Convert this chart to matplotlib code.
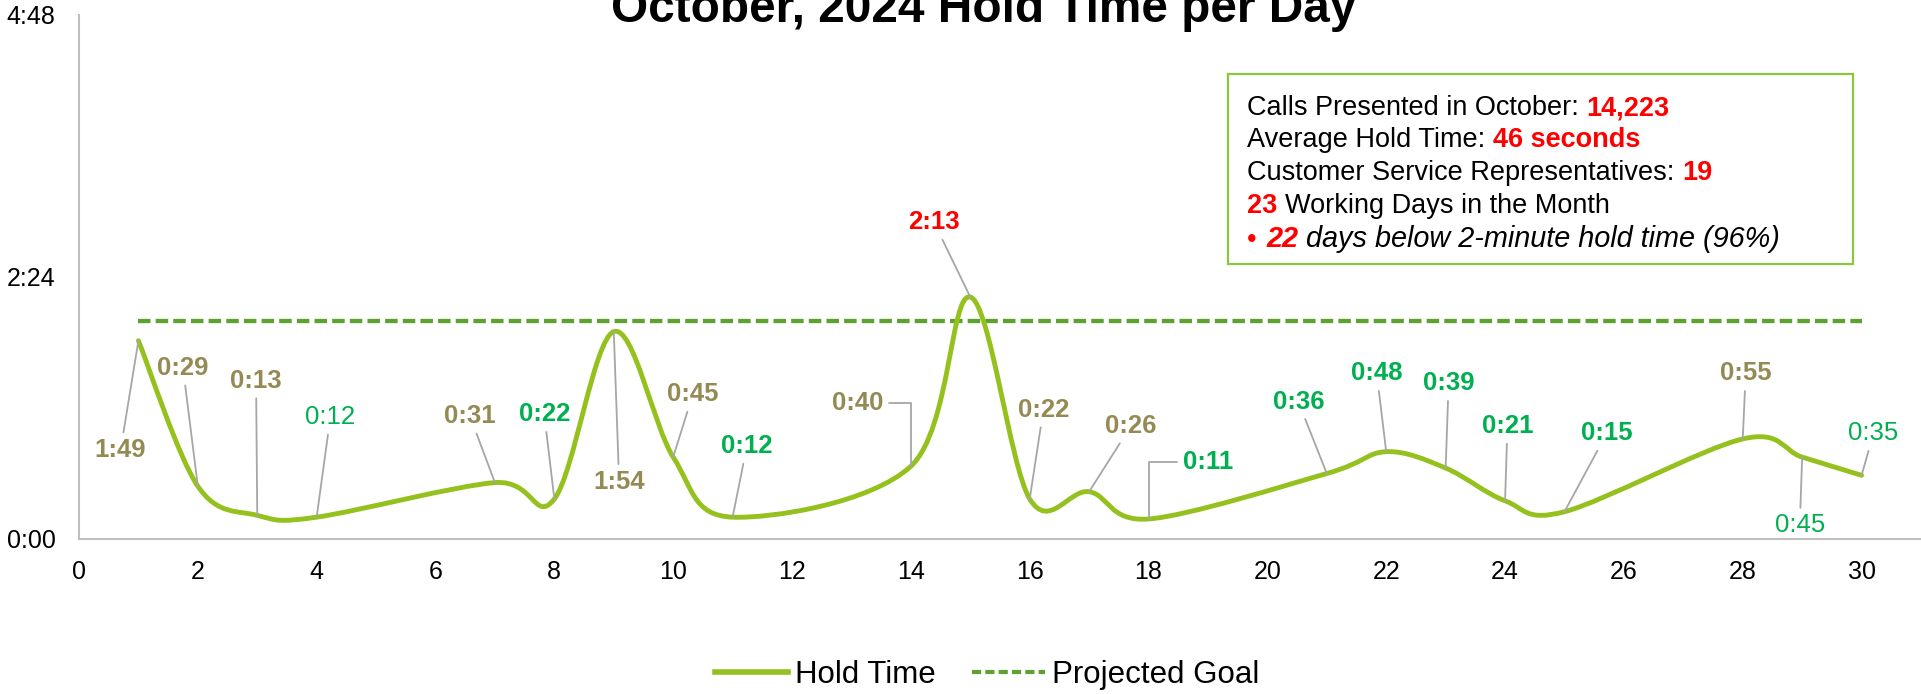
import matplotlib
matplotlib.use("Agg")
import matplotlib.pyplot as plt
from matplotlib.path import Path
from matplotlib.patches import PathPatch, Rectangle
from matplotlib.lines import Line2D

plt.rcParams['font.family'] = ['Liberation Sans', 'DejaVu Sans']

# ---- dados ----
days = [1, 2, 3, 4, 7, 8, 9, 10, 11, 14, 15, 16, 17, 18, 21, 22, 23, 24, 25, 28, 29, 30]
hold_sec = [109, 29, 13, 12, 31, 22, 114, 45, 12, 40, 133, 22, 26, 11, 36, 48, 39, 21, 15, 55, 45, 35]
goal_sec = 120
goal_days = [1, 30]

y_ticks = [0, 144, 288]
y_tick_labels = ['0:00', '2:24', '4:48']
x_ticks = list(range(0, 31, 2))

# estilo de cada rótulo: 't' = caqui, 'g' = verde, 'r' = vermelho ; negrito ou não
label_style = ['t', 't', 't', 'g', 't', 'g', 't', 't', 'g', 't', 'r', 't',
               't', 'g', 'g', 'g', 'g', 'g', 'g', 't', 'g', 'g']
label_bold = [1, 1, 1, 0, 1, 1, 1, 1, 1, 1, 1, 1,
              1, 1, 1, 1, 1, 1, 1, 1, 0, 0]
# posição dos rótulos (dia, segundos)
label_x = [0.70, 1.75, 2.98, 4.23, 6.58, 7.83, 9.09, 10.33, 11.24, 13.1, 14.39, 16.23,
           17.7, 19.0, 20.52, 21.84, 23.05, 24.04, 25.71, 28.05, 28.96, 30.2]
label_y = [49, 94, 87, 67, 67.5, 68.5, 31.5, 79.5, 51, 74.5, 174, 71,
           62, 42.5, 75.5, 91, 85.5, 62, 58, 91, 7.5, 58]
elbow_left = [9]    # rótulo à esquerda, conector em L
elbow_right = [13]  # rótulo à direita, conector em L

info_lines = [
    [("Calls Presented in October:", 'k', 'normal', 'normal'), ("14,223", 'r', 'bold', 'normal')],
    [("Average Hold Time:", 'k', 'normal', 'normal'), ("46 seconds", 'r', 'bold', 'normal')],
    [("Customer Service Representatives:", 'k', 'normal', 'normal'), ("19", 'r', 'bold', 'normal')],
    [("23", 'r', 'bold', 'normal'), ("Working Days in the Month", 'k', 'normal', 'normal')],
    [("22", 'r', 'bold', 'italic'), ("days below 2-minute hold time (96%)", 'k', 'normal', 'italic')],
]

cores = {'t': '#948A54', 'g': '#00B050', 'r': '#FF0000', 'k': '#000000'}
cor_linha = '#95C11F'
cor_meta = '#5DA130'


def fmt(s):
    return f"{s // 60}:{s % 60:02d}"


def caminho_suave(xs, ys):
    # curva suavizada estilo Excel (Bezier com tangentes de Catmull-Rom)
    pts = list(zip(xs, ys))
    n = len(pts)
    verts = [pts[0]]
    codes = [Path.MOVETO]
    for i in range(n - 1):
        p0 = pts[i - 1] if i > 0 else pts[i]
        p1 = pts[i]
        p2 = pts[i + 1]
        p3 = pts[i + 2] if i + 2 < n else pts[i + 1]
        c1 = (p1[0] + (p2[0] - p0[0]) / 6, p1[1] + (p2[1] - p0[1]) / 6)
        c2 = (p2[0] - (p3[0] - p1[0]) / 6, p2[1] - (p3[1] - p1[1]) / 6)
        verts += [c1, c2, p2]
        codes += [Path.CURVE4] * 3
    return Path(verts, codes)


W, H = 1921, 694
fig = plt.figure(figsize=(W / 100, H / 100), dpi=100)
ax = fig.add_axes([79 / W, 1 - 539 / H, 1842 / W, 524 / H])

ax.add_patch(PathPatch(caminho_suave(days, hold_sec), facecolor='none',
                       edgecolor=cor_linha, lw=3.5, capstyle='round', zorder=3))
ax.plot(goal_days, [goal_sec, goal_sec], color=cor_meta, lw=3.1,
        linestyle=(0, (2.9, 1.2)), zorder=2)

ax.set_xlim(0, 31)
ax.set_ylim(0, 288)
ax.set_xticks(x_ticks)
ax.set_yticks(y_ticks)
ax.set_yticklabels(y_tick_labels)
ax.tick_params(length=0, labelsize=18)
ax.tick_params(axis='x', pad=15)
ax.tick_params(axis='y', pad=17)
for lado in ['top', 'right']:
    ax.spines[lado].set_visible(False)
for lado in ['left', 'bottom']:
    ax.spines[lado].set_color('#BFBFBF')
    ax.spines[lado].set_linewidth(1.5)

# rótulos de dados
for i, (d, s) in enumerate(zip(days, hold_sec)):
    estilo = 'arc3'
    relpos = (0.5, 0.5)
    if i in elbow_left:
        estilo = 'angle,angleA=0,angleB=90,rad=0'
        relpos = (1, 0.5)
    elif i in elbow_right:
        estilo = 'angle,angleA=0,angleB=90,rad=0'
        relpos = (0, 0.5)
    ax.annotate(fmt(s), xy=(d, s), xytext=(label_x[i], label_y[i]), textcoords='data',
                ha='center', va='center', fontsize=18.5,
                color=cores[label_style[i]],
                fontweight='bold' if label_bold[i] else 'normal',
                arrowprops=dict(arrowstyle='-', color='#A6A6A6', lw=1.3,
                                shrinkA=2, shrinkB=0, connectionstyle=estilo,
                                relpos=relpos),
                zorder=4)

# título (parcialmente cortado no topo, como no original)
fig.text(984 / W, 1 - 21.5 / H, 'October, 2024 Hold Time per Day', ha='center',
         va='baseline', fontsize=34.4, fontweight='bold')

# caixa de informações
fig.patches.append(Rectangle((1227.6 / W, 1 - 264 / H), (1853 - 1227.6) / W, (264 - 74) / H,
                             transform=fig.transFigure, fill=False,
                             edgecolor='#8CC63F', lw=1.6))
renderer = fig.canvas.get_renderer()
base_y = [115, 147, 180, 213, 247]
fs_info = 19.5
fs_italico = 20.8


def largura(txt, fs, **kw):
    t = fig.text(0, 0, txt, fontsize=fs, transform=None, **kw)
    w = t.get_window_extent(renderer).width
    t.remove()
    return w


for i, segs in enumerate(info_lines):
    x = 1247
    if i == 4:
        fig.text(x, H - base_y[i], '\u2022', color=cores['r'], fontsize=fs_info,
                 transform=None, va='baseline')
        x = 1266
    for txt, c, wt, st in segs:
        fs = fs_italico if st == 'italic' else fs_info
        t = fig.text(x, H - base_y[i], txt, color=cores[c], fontweight=wt, fontstyle=st,
                     fontsize=fs, transform=None, va='baseline')
        esp = largura('a a', fs) - largura('aa', fs)
        x = t.get_window_extent(renderer).x1 + esp

# legenda
handles = [Line2D([], [], color=cor_linha, lw=4),
           Line2D([], [], color=cor_meta, lw=3, linestyle=(0, (2.2, 1.0)))]
fig.legend(handles, ['Hold Time', 'Projected Goal'], loc='center',
           bbox_to_anchor=(987 / W, 1 - 675 / H), ncol=2, frameon=False, fontsize=22.5,
           handlelength=2.35, handletextpad=0.2, columnspacing=1.17)

fig.savefig('out.png', dpi=100)
